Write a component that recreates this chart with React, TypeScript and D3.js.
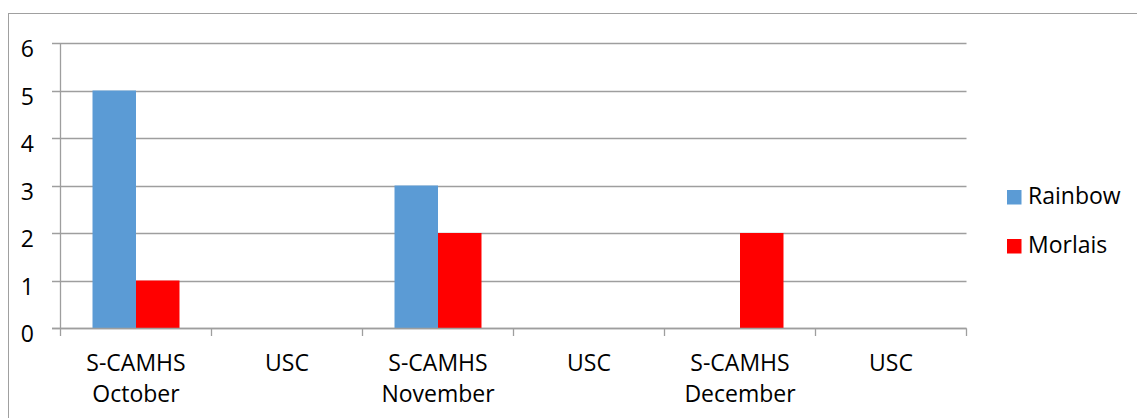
import React from "react";
import * as d3 from "d3";

const categories = ["S-CAMHS October", "USC", "S-CAMHS November", "USC", "S-CAMHS December", "USC"];
const categoryLines = [["S-CAMHS", "October"], ["USC"], ["S-CAMHS", "November"], ["USC"], ["S-CAMHS", "December"], ["USC"]];
const seriesNames = ["Rainbow", "Morlais"];
const rainbow = [5, 0, 3, 0, 0, 0];
const morlais = [1, 0, 2, 0, 2, 0];
const yTicks = [0, 1, 2, 3, 4, 5, 6];
const colors = ["#5B9BD5", "#FF0000"];

const W = 1137;
const H = 418;
const FONT = "'Open Sans', sans-serif";

export default function App() {
  const x = d3.scaleBand<number>().domain(d3.range(categories.length)).range([60.5, 966.5]).padding(0);
  const xi = d3.scaleBand<string>().domain(seriesNames).range([0, x.bandwidth()]).paddingInner(0).paddingOuter(0.736);
  const y = d3.scaleLinear().domain([0, 6]).range([328, 43]);
  const series = [rainbow, morlais];
  const grid = "#9E9E9E";
  const bounds = [...d3.range(categories.length).map((i) => x(i)!), x.range()[1]];

  return (
    <svg width={W} height={H} style={{ position: "absolute", left: 0, top: 0, background: "#fff" }} fontFamily={FONT}>
      <rect x={8.5} y={13.5} width={W + 10} height={H + 10} fill="#fff" stroke="#A0A0A0" strokeWidth={1} />
      {yTicks.map((t) => (
        <g key={t}>
          <line x1={52} x2={966.5} y1={Math.round(y(t)) + 0.5} y2={Math.round(y(t)) + 0.5} stroke={grid} strokeWidth={1.3} />
          <text x={34} y={y(t) + 14} textAnchor="end" fontSize={23} fill="#000">{t}</text>
        </g>
      ))}
      {series.map((vals, si) =>
        vals.map((v, i) =>
          v > 0 ? (
            <rect
              key={`${si}-${i}`}
              x={x(i)! + xi(seriesNames[si])!}
              width={xi.bandwidth()}
              y={y(v)}
              height={y(0) - y(v)}
              fill={colors[si]}
            />
          ) : null
        )
      )}
      <line x1={60.5} x2={60.5} y1={43} y2={328.5} stroke={grid} strokeWidth={1.3} />
      <line x1={52} x2={966.5} y1={328.5} y2={328.5} stroke={grid} strokeWidth={1.3} />
      {bounds.map((b, i) => (
        <line key={i} x1={b} x2={b} y1={328.5} y2={336} stroke={grid} strokeWidth={1.3} />
      ))}
      {categoryLines.map((lines, i) => (
        <text key={i} textAnchor="middle" fontSize={23} fill="#000">
          {lines.map((l, li) => (
            <tspan key={li} x={x(i)! + x.bandwidth() / 2} y={371 + li * 30.5}>{l}</tspan>
          ))}
        </text>
      ))}
      {seriesNames.map((s, si) => (
        <g key={s}>
          <rect x={1007} y={190 + si * 49} width={14.5} height={14.5} fill={colors[si]} />
          <text x={1028} y={204 + si * 49} fontSize={23} fill="#000">{s}</text>
        </g>
      ))}
    </svg>
  );
}
